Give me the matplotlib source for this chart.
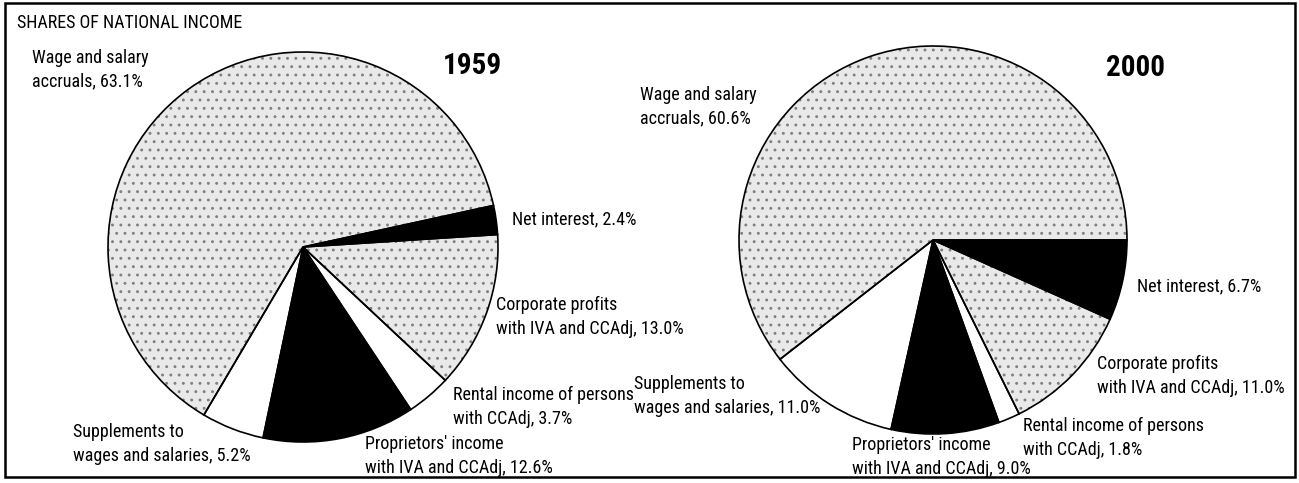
import matplotlib
matplotlib.use("Agg")
import matplotlib.pyplot as plt
from matplotlib.patches import Rectangle
from matplotlib import font_manager

# pick a condensed sans if one is installed, else Liberation Sans at a smaller size
_names = {f.name for f in font_manager.fontManager.ttflist}
_narrow = [n for n in ['Liberation Sans Narrow', 'Arial Narrow', 'Roboto Condensed',
                       'Open Sans Condensed'] if n in _names]
if _narrow:
    FAMILY = [_narrow[0], 'Liberation Sans', 'DejaVu Sans']
    FS, YFS, LS = 13, 21, 1.38
else:
    FAMILY = ['Liberation Sans', 'DejaVu Sans']
    FS, YFS, LS = 10.8, 19, 1.6
plt.rcParams['font.family'] = FAMILY
plt.rcParams['hatch.color'] = '#808080'
plt.rcParams['hatch.linewidth'] = 0.9

# ---- data ----
title = "SHARES OF NATIONAL INCOME"
years = ["1959", "2000"]
categories = ["Net interest",
              "Corporate profits\nwith IVA and CCAdj",
              "Rental income of persons\nwith CCAdj",
              "Proprietors' income\nwith IVA and CCAdj",
              "Supplements to\nwages and salaries",
              "Wage and salary\naccruals"]
shares_1959 = [2.4, 13.0, 3.7, 12.6, 5.2, 63.1]
shares_2000 = [6.7, 11.0, 1.8, 9.0, 11.0, 60.6]

# ---- styles / layout ----
W, H = 1299, 483
STIPPLE = '#e9e9e9'
fills = [('black', None), (STIPPLE, '..'), ('white', None),
         ('black', None), ('white', None), (STIPPLE, '..')]
pie_specs = [
    dict(values=shares_1959, center=(303, 247), radius=195, start=12.3,
         year_pos=(472, 66),
         label_pos=[(512, 219), (496, 317), (453, 407), (365, 456), (73, 444), (32, 70)]),
    dict(values=shares_2000, center=(933, 240), radius=194, start=0.0,
         year_pos=(1136, 68),
         label_pos=[(1137, 286), (1097, 376), (1023, 438), (852, 457), (634, 396), (640, 107)]),
]

fig = plt.figure(figsize=(W / 100, H / 100), dpi=100)
ax = fig.add_axes([0, 0, 1, 1])

for spec, year in zip(pie_specs, years):
    cx, cy = spec['center']
    c = (cx, H - cy)
    vals = spec['values']
    ax.pie(vals, colors=[f[0] for f in fills],
           hatch=[f[1] for f in fills],
           center=c, radius=spec['radius'],
           startangle=spec['start'], counterclock=False,
           wedgeprops=dict(linewidth=0), frame=True, normalize=True)
    ax.pie(vals, center=c, radius=spec['radius'],
           startangle=spec['start'], counterclock=False,
           wedgeprops=dict(fill=False, edgecolor='black', linewidth=1.2),
           frame=True, normalize=True)
    for cat, v, (lx, ly) in zip(categories, vals, spec['label_pos']):
        ax.text(lx, H - ly, f"{cat}, {v:.1f}%", ha='left', va='center',
                fontsize=FS, linespacing=LS, color='black')
    yx, yy = spec['year_pos']
    ax.text(yx, H - yy, year, ha='center', va='center', fontsize=YFS,
            fontweight='bold', color='black')

ax.text(17, H - 23, title, ha='left', va='center', fontsize=FS, color='black')

ax.add_patch(Rectangle((5, H - 477), 1290, 474, fill=False, edgecolor='black',
                       linewidth=1.8))

ax.set_xlim(0, W)
ax.set_ylim(0, H)
ax.set_aspect('auto')
ax.set_axis_off()

fig.savefig("out.png", dpi=100, facecolor='white')
